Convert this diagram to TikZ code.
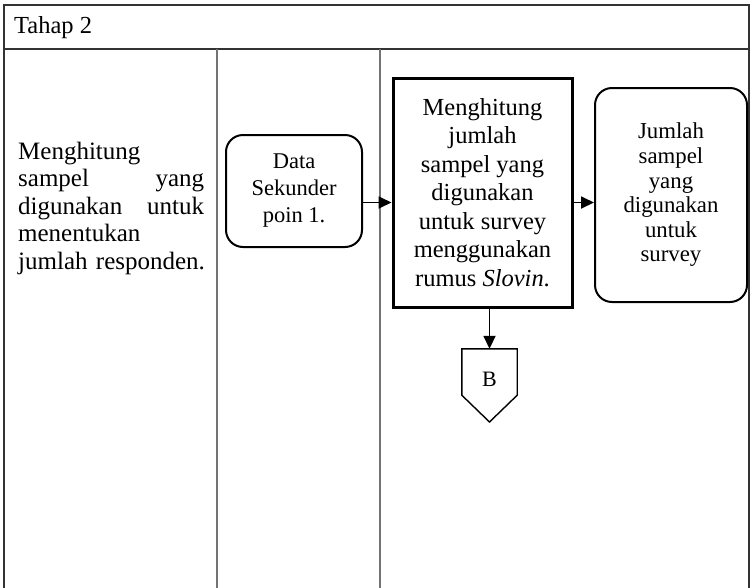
\documentclass[tikz,border=0pt]{standalone}
\usepackage{fontspec}
\setmainfont{Liberation Serif}
\usetikzlibrary{arrows.meta}
\begin{document}
\begin{tikzpicture}[x=1pt,y=-1pt,
  frame/.style={draw=black!80, line width=1.1pt},
  lane/.style={draw=black!55, line width=1.4pt},
  proc/.style={draw, line width=3pt, minimum width=179pt, minimum height=229pt, inner sep=0pt, align=center, font=\fontsize{24.5}{28.5}\selectfont},
  term/.style={draw, line width=2pt, rounded corners=17pt, inner sep=0pt, align=center},
  flow/.style={line width=1.8pt, -{Triangle[length=13pt,width=12pt]}},
  txt/.style={inner sep=0pt}
]
\useasboundingbox (0,0) rectangle (750,587);
\draw[frame] (4,600) -- (4,5) -- (749,5) -- (749,600);
\draw[frame] (4,49) -- (749,49);
\draw[lane] (217,49) -- (217,600);
\draw[lane] (380,49) -- (380,600);

\node[txt, anchor=west, font=\fontsize{24.5}{28}\selectfont] (tahap) at (14,28) {Tahap 2};

\node[txt, anchor=west, text width=192pt, align=left, font=\fontsize{25}{27.5}\selectfont] (desc) at (18,208)
 {Menghitung\\
  \makebox[186pt][l]{sampel\hfill yang}\\
  \makebox[186pt][l]{digunakan\hfill untuk}\\
  menentukan\\
  \mbox{jumlah responden.}};

\node[term, minimum width=136pt, minimum height=112pt, font=\fontsize{22.5}{27}\selectfont] (data) at (294,191) {Data\\Sekunder\\poin 1.};

\node[proc] (main) at (482.5,192.5) {Menghitung\\jumlah\\sampel yang\\digunakan\\untuk survey\\menggunakan\\rumus \textit{Slovin}.};

\node[term, minimum width=152pt, minimum height=214pt, font=\fontsize{22.8}{24.6}\selectfont] (jumlah) at (671,195) {Jumlah\\sampel\\yang\\digunakan\\untuk\\survey};

\coordinate (ay) at (0,202.5);
\draw[flow] (data.east |- ay) -- (main.west |- ay);
\draw[flow] (main.east |- ay) -- (jumlah.west |- ay);

\node[minimum width=55pt, minimum height=46pt, inner sep=0pt] (Bn) at (489.5,372) {};
\draw[line width=1.4pt, line join=miter] (Bn.north west) -- (Bn.north east) -- (Bn.south east) -- (489.5,422) -- (Bn.south west) -- cycle;
\node[txt, font=\fontsize{22}{26}\selectfont] (B) at (489.5,379) {B};
\draw[flow] (main.south -| Bn.north) -- (Bn.north);
\end{tikzpicture}
\end{document}
